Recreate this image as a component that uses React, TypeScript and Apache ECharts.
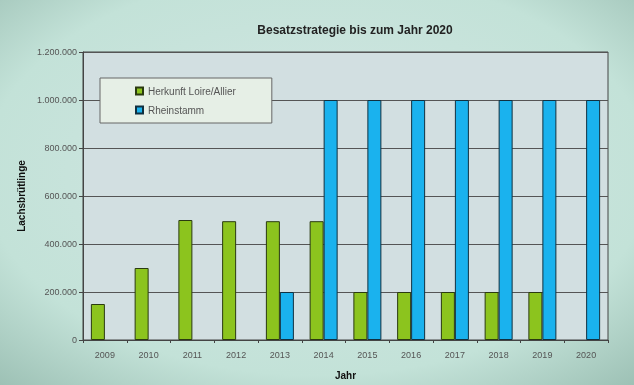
import React, { useEffect, useRef } from "react";
import * as echarts from "echarts";

const years = ["2009", "2010", "2011", "2012", "2013", "2014", "2015", "2016", "2017", "2018", "2019", "2020"];
const herkunft = [150000, 300000, 500000, 495000, 495000, 495000, 200000, 200000, 200000, 200000, 200000, null];
const rheinstamm = [null, null, null, null, 200000, 1000000, 1000000, 1000000, 1000000, 1000000, 1000000, 1000000];
const seriesNames = ["Herkunft Loire/Allier", "Rheinstamm"];

function fmt(v: number) {
  return String(v).replace(/\B(?=(\d{3})+(?!\d))/g, ".");
}

export default function App() {
  const ref = useRef<HTMLDivElement>(null);
  useEffect(() => {
    const chart = echarts.init(ref.current!, null, { renderer: "svg" });
    chart.setOption({
      animation: false,
      backgroundColor: {
        type: "radial",
        x: 0.5,
        y: 0.45,
        r: 0.75,
        colorStops: [
          { offset: 0, color: "#d3e6e4" },
          { offset: 0.7, color: "#c3e2d8" },
          { offset: 1, color: "#9cc0b4" },
        ],
      },
      textStyle: { fontFamily: "Liberation Sans, Arial, sans-serif" },
      title: {
        text: "Besatzstrategie bis zum Jahr 2020",
        left: 350,
        top: 19,
        textAlign: "center",
        textStyle: { fontSize: 12, fontWeight: "bold", color: "#222" },
      },
      legend: {
        orient: "vertical",
        left: 100,
        top: 78,
        padding: [8, 36, 8, 35],
        itemGap: 9,
        itemWidth: 7,
        itemHeight: 7,
        backgroundColor: "#e6efe6",
        borderColor: "#666",
        borderWidth: 1,
        borderRadius: 0,
        icon: "rect",
        textStyle: { fontSize: 10, color: "#555" },
        data: seriesNames,
      },
      grid: {
        left: 83,
        right: 26,
        top: 52,
        bottom: 45,
        show: true,
        backgroundColor: "#d2dfe1",
        borderColor: "#444",
        borderWidth: 1,
      },
      xAxis: {
        type: "category",
        data: years,
        name: "Jahr",
        nameLocation: "middle",
        nameGap: 30,
        nameTextStyle: { fontSize: 10, fontWeight: "bold", color: "#111" },
        axisLine: { lineStyle: { color: "#444" } },
        axisTick: { show: true, length: 3, lineStyle: { color: "#444" } },
        axisLabel: { fontSize: 9, color: "#555", margin: 10 },
      },
      yAxis: {
        type: "value",
        min: 0,
        max: 1200000,
        interval: 200000,
        name: "Lachsbrütlinge",
        nameLocation: "middle",
        nameGap: 56,
        nameTextStyle: { fontSize: 10, fontWeight: "bold", color: "#111" },
        axisLine: { show: true, lineStyle: { color: "#444" } },
        axisTick: { show: true, length: 4, lineStyle: { color: "#444" } },
        axisLabel: { fontSize: 9, color: "#555", margin: 6, formatter: (v: number) => fmt(v) },
        splitLine: { lineStyle: { color: "#555", width: 1 } },
      },
      series: [
        {
          name: seriesNames[0],
          type: "bar",
          data: herkunft,
          barWidth: 14,
          barGap: "0%",
          itemStyle: { color: "#8cc41e", borderColor: "#2a3a10", borderWidth: 1 },
        },
        {
          name: seriesNames[1],
          type: "bar",
          data: rheinstamm,
          barWidth: 14,
          barGap: "0%",
          itemStyle: { color: "#1ab2ee", borderColor: "#103040", borderWidth: 1 },
        },
      ],
    });
    return () => chart.dispose();
  }, []);
  return <div ref={ref} style={{ position: "fixed", left: 0, top: 0, width: 634, height: 385 }} />;
}
